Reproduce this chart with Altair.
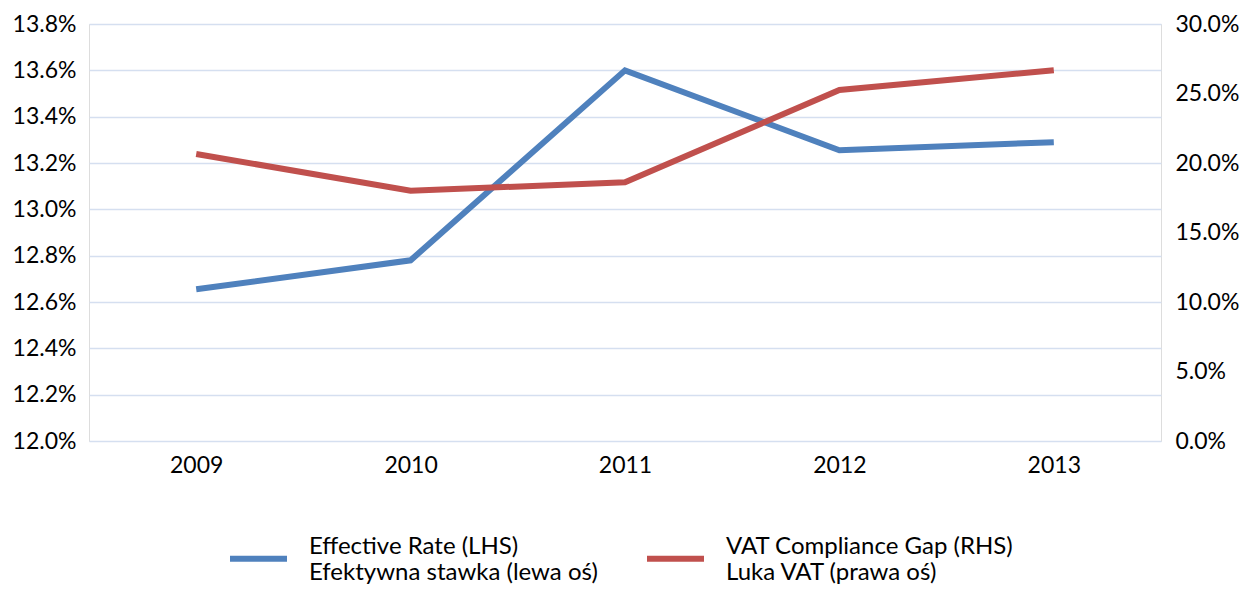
import altair as alt
import pandas as pd

years = ["2009", "2010", "2011", "2012", "2013"]
effective_rate = [0.12655, 0.1278, 0.1360, 0.13255, 0.1329]
compliance_gap = [0.2065, 0.1800, 0.1862, 0.2525, 0.2668]
series_names = ["Effective Rate (LHS)|Efektywna stawka (lewa oś)",
                "VAT Compliance Gap (RHS)|Luka VAT (prawa oś)"]
series_colors = ["#4f81bd", "#c0504d"]
left_ticks = [0.120, 0.122, 0.124, 0.126, 0.128, 0.130, 0.132, 0.134, 0.136, 0.138]
right_ticks = [0.0, 0.05, 0.10, 0.15, 0.20, 0.25, 0.30]

df = pd.DataFrame({
    "year": years * 2,
    "value": effective_rate + compliance_gap,
    "series": [series_names[0]] * 5 + [series_names[1]] * 5,
})

FONT = "Lato"
FS = 23
x_enc = alt.X("year:O", title=None,
              scale=alt.Scale(type="point", padding=0.5),
              axis=alt.Axis(labelAngle=0, ticks=False, domain=False, grid=False,
                            labelPadding=13, labelFontSize=FS, labelFont=FONT,
                            labelColor="#000000"))
color_enc = alt.Color("series:N", title=None,
                      scale=alt.Scale(domain=series_names, range=series_colors),
                      legend=alt.Legend(orient="none", legendX=138, legendY=503,
                                        direction="horizontal", columns=2,
                                        symbolType="stroke", symbolSize=3249,
                                        symbolStrokeWidth=6, columnPadding=37,
                                        labelOffset=19, labelFontSize=24,
                                        labelFont=FONT, labelColor="#000000",
                                        labelLimit=600, labelBaseline="bottom",
                                        labelExpr="split(datum.label, '|')"))

left = alt.Chart(df).transform_filter(
    alt.datum.series == series_names[0]
).mark_line(strokeWidth=6).encode(
    x=x_enc,
    y=alt.Y("value:Q", title=None,
            scale=alt.Scale(domain=[0.120, 0.138], nice=False, zero=False),
            axis=alt.Axis(values=left_ticks, format=".1%", ticks=False, domain=False,
                          grid=True, gridColor="#d5dff0", gridWidth=1.6,
                          labelPadding=13, labelFontSize=FS, labelFont=FONT,
                          labelColor="#000000")),
    color=color_enc,
)

right = alt.Chart(df).transform_filter(
    alt.datum.series == series_names[1]
).mark_line(strokeWidth=6).encode(
    x=x_enc,
    y=alt.Y("value:Q", title=None,
            scale=alt.Scale(domain=[0.0, 0.30], nice=False),
            axis=alt.Axis(orient="right", values=right_ticks, format=".1%",
                          ticks=False, domain=False, grid=False,
                          labelPadding=14, labelFontSize=FS, labelFont=FONT,
                          labelColor="#000000")),
    color=color_enc,
)

chart = alt.layer(left, right).resolve_scale(y="independent").properties(
    width=1072, height=417,
    autosize=alt.AutoSizeParams(type="none"),
    padding={"left": 81, "top": 16, "right": 80, "bottom": 146},
).configure_view(strokeWidth=0).configure(background="#ffffff")

chart.save("out.html", embed_options={"renderer": "svg", "actions": False})
